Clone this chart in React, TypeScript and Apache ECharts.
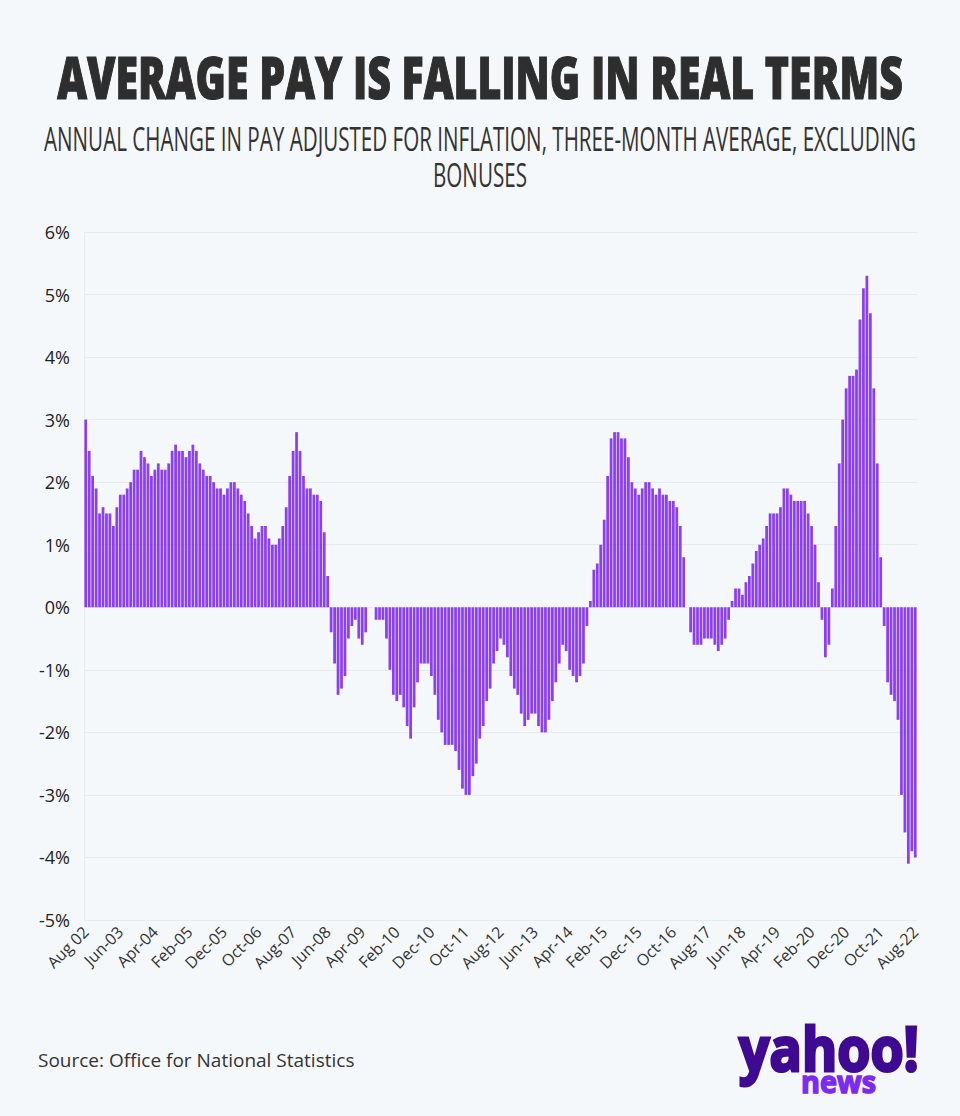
import React, { useEffect, useRef } from "react";
import * as echarts from "echarts";

// Annual change in real pay (%), three-month average, excluding bonuses. Monthly, Aug 2002 – Aug 2022.
const pay2002to2007 = [
  3.0, 2.5, 2.1, 1.9, 1.5, 1.6, 1.5, 1.5, 1.3, 1.6,
  1.8, 1.8, 1.9, 2.0, 2.2, 2.2, 2.5, 2.4, 2.3, 2.1,
  2.2, 2.3, 2.2, 2.2, 2.3, 2.5, 2.6, 2.5, 2.5, 2.4,
  2.5, 2.6, 2.5, 2.3, 2.2, 2.1, 2.1, 2.0, 1.9, 1.9,
  1.8, 1.9, 2.0, 2.0, 1.9, 1.8, 1.7, 1.5, 1.3, 1.1,
  1.2, 1.3, 1.3, 1.1, 1.0, 1.0, 1.1, 1.3, 1.6, 2.1,
];
const pay2007to2012 = [
  2.5, 2.8, 2.5, 2.1, 1.9, 1.9, 1.8, 1.8, 1.7, 1.2,
  0.5, -0.4, -0.9, -1.4, -1.3, -1.1, -0.5, -0.3, -0.2, -0.5,
  -0.6, -0.4, 0, 0, -0.2, -0.2, -0.2, -0.5, -1.0, -1.4,
  -1.5, -1.4, -1.6, -1.9, -2.1, -1.6, -1.2, -0.9, -0.9, -0.9,
  -1.1, -1.4, -1.8, -2.0, -2.2, -2.2, -2.2, -2.3, -2.6, -2.9,
  -3.0, -3.0, -2.7, -2.5, -2.1, -1.9, -1.5, -1.3, -0.9, -0.7,
];
const pay2012to2017 = [
  -0.5, -0.6, -0.8, -1.1, -1.3, -1.4, -1.7, -1.9, -1.8, -1.7,
  -1.7, -1.9, -2.0, -2.0, -1.8, -1.5, -1.2, -0.9, -0.6, -0.7,
  -1.0, -1.1, -1.2, -1.1, -0.9, -0.3, 0.1, 0.6, 0.7, 1.0,
  1.4, 2.1, 2.7, 2.8, 2.8, 2.7, 2.7, 2.4, 2.0, 1.9,
  1.8, 1.9, 2.0, 2.0, 1.9, 1.8, 1.9, 1.8, 1.8, 1.7,
  1.7, 1.6, 1.3, 0.8, 0, -0.4, -0.6, -0.6, -0.6, -0.5,
];
const pay2017to2022 = [
  -0.5, -0.5, -0.6, -0.7, -0.6, -0.5, -0.2, 0.1, 0.3, 0.3,
  0.2, 0.4, 0.5, 0.7, 0.9, 1.0, 1.1, 1.3, 1.5, 1.5,
  1.5, 1.6, 1.9, 1.9, 1.8, 1.7, 1.7, 1.7, 1.7, 1.5,
  1.3, 1.0, 0.4, -0.2, -0.8, -0.6, 0.3, 1.3, 2.3, 3.0,
  3.5, 3.7, 3.7, 3.8, 4.6, 5.1, 5.3, 4.7, 3.5, 2.3,
  0.8, -0.3, -1.2, -1.4, -1.5, -1.8, -3.0, -3.6, -4.1, -3.9,
  -4.0,
];
const realPay = [...pay2002to2007, ...pay2007to2012, ...pay2012to2017, ...pay2017to2022];

const monthNames = ["Jan", "Feb", "Mar", "Apr", "May", "Jun", "Jul", "Aug", "Sep", "Oct", "Nov", "Dec"];
const startMonth = 7; // Aug
const startYear = 2002;
const categories = realPay.map((_, i) => {
  const m = (startMonth + i) % 12;
  const y = startYear + Math.floor((startMonth + i) / 12);
  return `${monthNames[m]}-${String(y % 100).padStart(2, "0")}`;
});

const tickLabels = [
  "Aug 02", "Jun-03", "Apr-04", "Feb-05", "Dec-05", "Oct-06", "Aug-07", "Jun-08", "Apr-09",
  "Feb-10", "Dec-10", "Oct-11", "Aug-12", "Jun-13", "Apr-14", "Feb-15", "Dec-15", "Oct-16",
  "Aug-17", "Jun-18", "Apr-19", "Feb-20", "Dec-20", "Oct-21", "Aug-22",
];
const tickStep = 10;

const title = "AVERAGE PAY IS FALLING IN REAL TERMS";
const subtitle1 = "ANNUAL CHANGE IN PAY ADJUSTED FOR INFLATION, THREE-MONTH AVERAGE, EXCLUDING";
const subtitle2 = "BONUSES";
const source = "Source: Office for National Statistics";

function measure(text: string, font: string): number {
  const ctx = document.createElement("canvas").getContext("2d");
  if (!ctx) return 1;
  ctx.font = font;
  return ctx.measureText(text).width || 1;
}

export default function App() {
  const ref = useRef<HTMLDivElement>(null);
  useEffect(() => {
    if (!ref.current) return;
    const chart = echarts.init(ref.current, undefined, { renderer: "svg" });

    const titleFont = '800 58px "Open Sans"';
    const titleScale = 846 / measure(title, titleFont);
    const subFont = '32px "Open Sans"';
    const subScale = 872 / measure(subtitle1, subFont);
    const srcSize = (100 * 317) / measure(source, '100px "Open Sans"');
    const logoFont = 'bold 60px "Open Sans"';
    const logoScale = 180 / measure("yahoo!", logoFont);
    const newsFont = 'bold 31px "Open Sans"';
    const newsScale = 75 / measure("news", newsFont);

    chart.setOption({
      animation: false,
      backgroundColor: "#f5f8fa",
      grid: { left: 84, right: 43, top: 232, bottom: 196, containLabel: false },
      xAxis: {
        type: "category",
        data: categories,
        axisLine: { show: false },
        axisTick: { show: false },
        axisLabel: {
          interval: tickStep - 1,
          rotate: 45,
          margin: 9,
          fontFamily: "Open Sans",
          fontSize: 16,
          color: "#333333",
          formatter: (_v: string, idx: number) => tickLabels[idx / tickStep] ?? "",
        },
        splitLine: { show: false },
      },
      yAxis: {
        type: "value",
        min: -5,
        max: 6,
        interval: 1,
        axisLine: { show: true, lineStyle: { color: "#e7ebee", width: 1 } },
        axisTick: { show: false },
        axisLabel: {
          formatter: "{value}%",
          fontFamily: "Open Sans",
          fontSize: 18,
          color: "#222222",
          margin: 14,
        },
        splitLine: { show: true, lineStyle: { color: "#e7ebee", width: 1 } },
      },
      series: [
        {
          type: "bar",
          data: realPay,
          barCategoryGap: "20%",
          itemStyle: { color: "#8b3ef6" },
          silent: true,
        },
      ],
      graphic: [
        {
          type: "text",
          x: 480,
          y: 76,
          scaleX: titleScale,
          style: {
            text: title,
            font: titleFont,
            fill: "#2e2e2e",
            stroke: "#2e2e2e",
            lineWidth: 1.2,
            align: "center",
            verticalAlign: "middle",
          },
        },
        {
          type: "text",
          x: 480,
          y: 139,
          scaleX: subScale,
          style: {
            text: subtitle1,
            font: subFont,
            fill: "#333333",
            align: "center",
            verticalAlign: "middle",
          },
        },
        {
          type: "text",
          x: 480,
          y: 175,
          scaleX: subScale,
          style: {
            text: subtitle2,
            font: subFont,
            fill: "#333333",
            align: "center",
            verticalAlign: "middle",
          },
        },
        {
          type: "text",
          x: 38,
          y: 1060,
          style: {
            text: source,
            font: `${srcSize.toFixed(1)}px "Open Sans"`,
            fill: "#333333",
            align: "left",
            verticalAlign: "middle",
          },
        },
        {
          type: "text",
          x: 829,
          y: 1048,
          scaleX: logoScale,
          style: {
            text: "yahoo!",
            font: logoFont,
            fill: "#3f0a91",
            stroke: "#3f0a91",
            lineWidth: 3,
            align: "center",
            verticalAlign: "middle",
          },
        },
        {
          type: "text",
          x: 838.5,
          y: 1081,
          scaleX: newsScale,
          style: {
            text: "news",
            font: newsFont,
            fill: "#7d2af0",
            stroke: "#7d2af0",
            lineWidth: 1.5,
            align: "center",
            verticalAlign: "middle",
          },
        },
      ],
    });
    return () => chart.dispose();
  }, []);

  return (
    <div
      ref={ref}
      style={{ position: "absolute", left: 0, top: 0, width: 960, height: 1116 }}
    />
  );
}
